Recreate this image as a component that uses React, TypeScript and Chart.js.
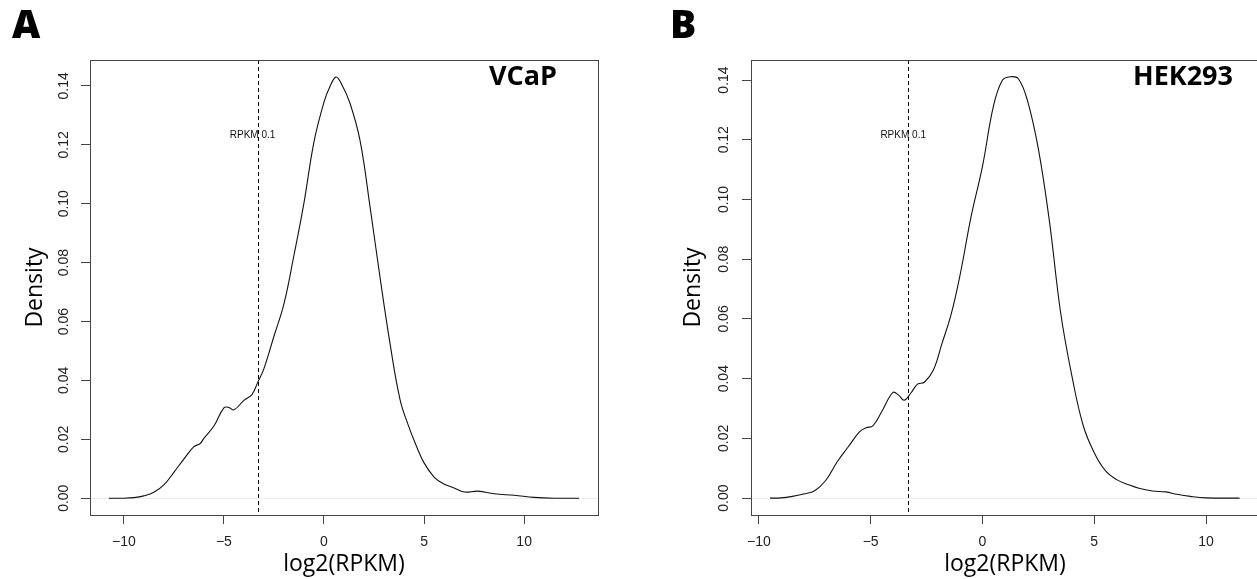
import React, { useEffect, useRef } from "react";
import { Chart, registerables } from "chart.js";

Chart.register(...registerables);

// ---------- data ----------
const xA = [-10.75, -10, -9.5, -9, -8.5, -8, -7.5, -7, -6.5, -6.2, -6, -5.5, -5, -4.75, -4.5, -4, -3.6, -3.3, -3, -2.5, -2, -1.5, -1, -0.5, 0, 0.3, 0.6, 0.9, 1.3, 1.8, 2.3, 2.8, 3.3, 3.8, 4.2, 4.6, 5, 5.5, 6, 6.5, 7, 7.7, 8.5, 9.5, 10.5, 11.5, 12.75];
const yA = [0, 0.0, 0.0002, 0.0008, 0.002, 0.0045, 0.0088, 0.0133, 0.0175, 0.0185, 0.0203, 0.0245, 0.0307, 0.0308, 0.03, 0.0332, 0.0352, 0.0395, 0.044, 0.055, 0.066, 0.0825, 0.1003, 0.121, 0.1345, 0.1398, 0.143, 0.1403, 0.1341, 0.1215, 0.099, 0.075, 0.0525, 0.0335, 0.025, 0.018, 0.012, 0.0072, 0.0048, 0.0035, 0.0021, 0.0024, 0.0015, 0.001, 0.0003, 0.0, 0];

const xB = [-9.5, -9, -8.5, -8, -7.5, -7, -6.5, -6, -5.5, -5.2, -4.9, -4.5, -4, -3.75, -3.5, -3.2, -2.9, -2.6, -2.2, -1.8, -1.4, -1, -0.5, 0, 0.5, 0.9, 1.25, 1.6, 2, 2.5, 3, 3.5, 4, 4.5, 5, 5.5, 6, 6.5, 7, 7.6, 8.2, 8.7, 9.3, 10, 11.5];
const yB = [0, 0.0001, 0.0006, 0.0014, 0.0025, 0.006, 0.0121, 0.0172, 0.0222, 0.0236, 0.0242, 0.029, 0.0354, 0.0345, 0.0328, 0.0352, 0.0382, 0.0388, 0.0428, 0.052, 0.0615, 0.0747, 0.0945, 0.111, 0.1315, 0.14, 0.1411, 0.1405, 0.1335, 0.117, 0.0925, 0.062, 0.041, 0.0245, 0.0152, 0.0092, 0.0062, 0.0046, 0.0033, 0.0024, 0.0021, 0.0013, 0.0006, 0.0001, 0];

const xTicks = [-10, -5, 0, 5, 10];
const yTicks = [0, 0.02, 0.04, 0.06, 0.08, 0.1, 0.12, 0.14];

const cutoffX = -3.32; // log2(RPKM 0.1)
const cutoffLabel = "RPKM 0.1";

const xRangeA = [-11.69, 13.69];
const yRangeA = [-0.0057, 0.1488];
const xRangeB = [-10.35, 12.37];
const yRangeB = [-0.00564, 0.1467];
const labelYA = 0.1234;
const labelYB = 0.1216;

// ---------- layout (pixels) ----------
type Panel = {
  letter: string;
  name: string;
  xs: number[];
  ys: number[];
  xRange: number[];
  yRange: number[];
  labelY: number;
  canvasLeft: number;
  canvasWidth: number;
  pad: { left: number; right: number; top: number; bottom: number };
  yAxisWidth: number;
  yTickPad: number;
  letterX: number;
  nameRightInset: number;
};

const panels: Panel[] = [
  {
    letter: "A", name: "VCaP", xs: xA, ys: yA, xRange: xRangeA, yRange: yRangeA, labelY: labelYA,
    canvasLeft: 0, canvasWidth: 628,
    pad: { left: 22, right: 30, top: 60, bottom: 1 },
    yAxisWidth: 68, yTickPad: 3, letterX: 12, nameRightInset: 41,
  },
  {
    letter: "B", name: "HEK293", xs: xB, ys: yB, xRange: xRangeB, yRange: yRangeB, labelY: labelYB,
    canvasLeft: 628, canvasWidth: 660,
    pad: { left: 52, right: 29, top: 60, bottom: 1 },
    yAxisWidth: 71, yTickPad: 4, letterX: 42, nameRightInset: 26,
  },
];

const H = 579;
const tickFont = { family: "'Liberation Sans', Arial, sans-serif", size: 14 };
const titleFont = { family: "'Open Sans', 'Noto Sans', sans-serif", size: 23 };

function fmtX(v: number) {
  return v < 0 ? "\u2212" + Math.abs(v) : String(v);
}

function PanelChart({ p }: { p: Panel }) {
  const ref = useRef<HTMLCanvasElement | null>(null);
  useEffect(() => {
    if (!ref.current) return;
    const decor = {
      id: "decor",
      beforeDatasetsDraw(chart: any) {
        const { ctx, chartArea: a, scales } = chart;
        const x = scales.x, y = scales.y;
        ctx.save();
        const y0 = Math.round(y.getPixelForValue(0)) + 0.5;
        ctx.strokeStyle = "#ececec";
        ctx.lineWidth = 1;
        ctx.beginPath();
        ctx.moveTo(a.left, y0);
        ctx.lineTo(a.right, y0);
        ctx.stroke();
        const xc = Math.round(x.getPixelForValue(cutoffX)) + 0.5;
        ctx.strokeStyle = "#000";
        ctx.setLineDash([4, 3]);
        ctx.beginPath();
        ctx.moveTo(xc, a.top);
        ctx.lineTo(xc, a.bottom);
        ctx.stroke();
        ctx.setLineDash([]);
        ctx.restore();
      },
      afterDraw(chart: any) {
        const { ctx, chartArea: a, scales } = chart;
        const x = scales.x, y = scales.y;
        ctx.save();
        ctx.strokeStyle = "#444";
        ctx.lineWidth = 1;
        const l = Math.round(a.left), t = Math.round(a.top), r = Math.round(a.right), b = Math.round(a.bottom);
        ctx.strokeRect(l + 0.5, t + 0.5, r - l, b - t);
        // cutoff label
        ctx.fillStyle = "#111";
        ctx.font = "10px 'Liberation Sans', Arial, sans-serif";
        ctx.textAlign = "center";
        ctx.textBaseline = "middle";
        ctx.fillText(cutoffLabel, x.getPixelForValue(cutoffX) - 5, y.getPixelForValue(p.labelY));
        // sample name
        ctx.font = "bold 27px 'Open Sans', 'Noto Sans', sans-serif";
        ctx.textAlign = "right";
        ctx.textBaseline = "alphabetic";
        ctx.fillStyle = "#000";
        ctx.fillText(p.name, r - p.nameRightInset, 85);
        // panel letter
        ctx.font = "800 39px 'Open Sans', 'Noto Sans', sans-serif";
        ctx.textAlign = "left";
        ctx.fillText(p.letter, p.letterX, 38);
        ctx.restore();
      },
    };
    const chart = new Chart(ref.current, {
      type: "line",
      data: {
        datasets: [
          {
            data: p.xs.map((v, i) => ({ x: v, y: p.ys[i] })),
            borderColor: "#111",
            borderWidth: 1.1,
            pointRadius: 0,
            fill: false,
            tension: 0.4,
          },
        ],
      },
      options: {
        animation: false,
        responsive: false,
        devicePixelRatio: 1,
        events: [],
        layout: { padding: p.pad },
        plugins: { legend: { display: false }, tooltip: { enabled: false }, title: { display: false } },
        scales: {
          x: {
            type: "linear",
            min: p.xRange[0],
            max: p.xRange[1],
            afterBuildTicks: (s: any) => { s.ticks = xTicks.map((v) => ({ value: v })); },
            afterFit: (s: any) => { s.height = 63; },
            grid: { drawOnChartArea: false, drawTicks: true, tickLength: 9, color: "#444" },
            border: { display: false },
            ticks: { font: tickFont, color: "#222", padding: 10, maxRotation: 0, autoSkip: false, callback: (v: any) => fmtX(Number(v)) },
            title: { display: true, text: "log2(RPKM)", font: titleFont, color: "#000", padding: { top: 0, bottom: 0 } },
          },
          y: {
            type: "linear",
            min: p.yRange[0],
            max: p.yRange[1],
            afterBuildTicks: (s: any) => { s.ticks = yTicks.map((v) => ({ value: v })); },
            afterFit: (s: any) => { s.width = p.yAxisWidth; },
            grid: { drawOnChartArea: false, drawTicks: true, tickLength: 9, color: "#444" },
            border: { display: false },
            ticks: { font: tickFont, color: "#222", padding: p.yTickPad, minRotation: 90, maxRotation: 90, crossAlign: "center", autoSkip: false, callback: (v: any) => Number(v).toFixed(2) },
            title: { display: true, text: "Density", font: titleFont, color: "#000", padding: { top: 0, bottom: 0 } },
          },
        },
      },
      plugins: [decor],
    } as any);
    return () => chart.destroy();
  }, [p]);
  return (
    <canvas
      ref={ref}
      width={p.canvasWidth}
      height={H}
      style={{ position: "absolute", left: p.canvasLeft, top: 0, width: p.canvasWidth, height: H }}
    />
  );
}

export default function App() {
  return (
    <div style={{ position: "fixed", left: 0, top: 0, width: 1257, height: H, overflow: "hidden", background: "#fff" }}>
      {panels.map((p) => (
        <PanelChart key={p.letter} p={p} />
      ))}
    </div>
  );
}
